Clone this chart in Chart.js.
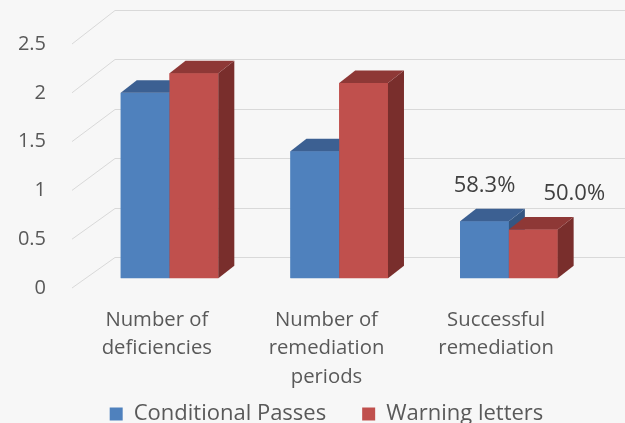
<!DOCTYPE html>
<html>
<head>
<meta charset="utf-8">
<script src="https://cdn.jsdelivr.net/npm/chart.js@4.4.1/dist/chart.umd.min.js"></script>
<style>
  html, body { margin: 0; padding: 0; background: #f7f7f7; }
  #wrap { width: 625px; height: 423px; }
</style>
</head>
<body>
<div id="wrap"><canvas id="chart" width="625" height="423"></canvas></div>
<script>
// data
const categories = [['Number of', 'deficiencies'], ['Number of', 'remediation', 'periods'], ['Successful', 'remediation']];
const conditionalPasses = [1.9, 1.3, 0.583];
const warningLetters = [2.1, 2.0, 0.5];
const conditionalLabels = ['', '', '58.3%'];
const warningLabels = ['', '', '50.0%'];
const yMin = 0, yMax = 2.5, yStep = 0.5;

// 3d look (oblique projection like the excel chart)
const WALL_DX = 43;
const WALL_DY_LOW = -31, WALL_DY_HIGH = -34.5; // slight perspective on the back wall
const BAR_DX = 12.7, BAR_DY = -9.8;    // bars sit a bit inside the floor
const DEPTH_DX = 16, DEPTH_DY = -12.5; // bar depth
const shades = [
    { front: '#4f81bd', top: '#3c6092', side: '#345682' },
    { front: '#c0504d', top: '#8e3836', side: '#792e2c' }
];
const labelShift = [0, 41]; // excel nudged the second label to the right

function poly(ctx, pts) {
    ctx.beginPath();
    ctx.moveTo(pts[0][0], pts[0][1]);
    for (let k = 1; k < pts.length; k++) ctx.lineTo(pts[k][0], pts[k][1]);
    ctx.closePath();
    ctx.fill();
}

const bars3d = {
    id: 'bars3d',
    afterLayout(chart) {
        // let the 3-line category labels run into the empty top of the legend box
        chart.scales.x.bottom = chart.height;
    },
    beforeDraw(chart) {
        const ctx = chart.ctx, area = chart.chartArea, y = chart.scales.y;
        ctx.save();
        ctx.fillStyle = '#f7f7f7';
        ctx.fillRect(0, 0, chart.width, chart.height);
        ctx.strokeStyle = '#d9d9d9';
        ctx.lineWidth = 1;
        y.ticks.forEach(t => {
            const py = y.getPixelForValue(t.value);
            const f = (t.value - y.min) / (y.max - y.min);
            const back = Math.round(py + WALL_DY_LOW + (WALL_DY_HIGH - WALL_DY_LOW) * f) + 0.5;
            ctx.beginPath();
            ctx.moveTo(area.left, py);
            ctx.lineTo(area.left + WALL_DX, back);
            ctx.lineTo(chart.width, back);
            ctx.stroke();
        });
        ctx.restore();
    },
    beforeDatasetsDraw(chart) {
        chart.ctx.save();
        chart.ctx.translate(BAR_DX, BAR_DY);
    },
    afterDatasetsDraw(chart) {
        const ctx = chart.ctx;
        const metas = chart.data.datasets.map((d, i) => chart.getDatasetMeta(i));
        // redraw per category so the red front hides the blue side
        for (let j = 0; j < chart.data.labels.length; j++) {
            metas.forEach((meta, i) => {
                const p = meta.data[j].getProps(['x', 'y', 'base', 'width'], true);
                const l = p.x - p.width / 2, r = p.x + p.width / 2, top = p.y, bot = p.base;
                const c = shades[i];
                ctx.fillStyle = c.front;
                ctx.fillRect(l, top, r - l, bot - top);
                ctx.fillStyle = c.side;
                poly(ctx, [[r, top], [r + DEPTH_DX, top + DEPTH_DY], [r + DEPTH_DX, bot + DEPTH_DY], [r, bot]]);
                ctx.fillStyle = c.top;
                poly(ctx, [[l, top], [l + DEPTH_DX, top + DEPTH_DY], [r + DEPTH_DX, top + DEPTH_DY], [r, top]]);
            });
        }
        // value labels
        ctx.font = '22px "Open Sans"';
        ctx.fillStyle = '#404040';
        ctx.textAlign = 'center';
        ctx.textBaseline = 'middle';
        metas.forEach((meta, i) => {
            const texts = chart.data.datasets[i].valueLabels;
            meta.data.forEach((el, j) => {
                if (!texts[j]) return;
                const p = el.getProps(['x', 'y'], true);
                ctx.fillText(texts[j], p.x + labelShift[i], p.y - 36);
            });
        });
        ctx.restore();
    }
};

const ctx = document.getElementById('chart').getContext('2d');
const chart = new Chart(ctx, {
    type: 'bar',
    data: {
        labels: categories,
        datasets: [{
            label: 'Conditional Passes',
            data: conditionalPasses,
            valueLabels: conditionalLabels,
            backgroundColor: shades[0].front,
            borderWidth: 0
        }, {
            label: 'Warning letters',
            data: warningLetters,
            valueLabels: warningLabels,
            backgroundColor: shades[1].front,
            borderWidth: 0
        }]
    },
    options: {
        responsive: false,
        animation: false,
        devicePixelRatio: 1,
        categoryPercentage: 0.575,
        barPercentage: 1,
        layout: {
            padding: { top: 44, right: 44, bottom: -12, left: 0 }
        },
        plugins: {
            legend: {
                position: 'bottom',
                fullSize: false,
                labels: {
                    boxWidth: 13,
                    boxHeight: 13,
                    padding: 36,
                    color: '#595959',
                    font: { family: 'Open Sans', size: 22 }
                }
            },
            tooltip: { enabled: false }
        },
        scales: {
            x: {
                grid: { display: false, drawTicks: false },
                border: { display: false },
                ticks: {
                    color: '#595959',
                    maxRotation: 0,
                    padding: 18,
                    font: { family: 'Open Sans', size: 20.3, lineHeight: 1.4 }
                },
                afterFit: s => { s.height = 79; }
            },
            y: {
                min: yMin,
                max: yMax,
                grid: { display: false, drawTicks: false },
                border: { display: false },
                ticks: {
                    stepSize: yStep,
                    color: '#595959',
                    padding: 26,
                    font: { family: 'Open Sans', size: 20 },
                    callback: v => String(v)
                },
                afterFit: s => { s.width = 72; }
            }
        }
    },
    plugins: [bars3d]
});
</script>
</body>
</html>
